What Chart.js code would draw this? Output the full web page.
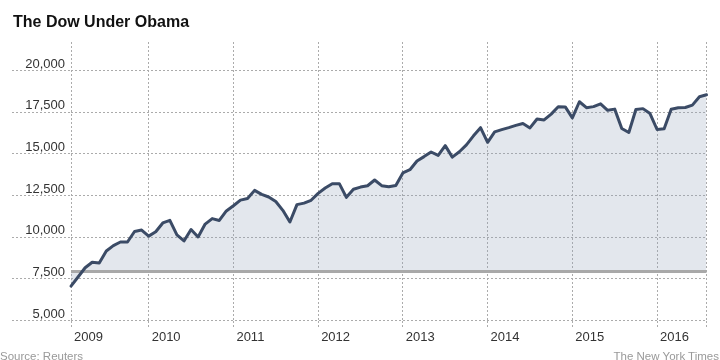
<!DOCTYPE html>
<html>
<head>
<meta charset="utf-8">
<script src="https://cdn.jsdelivr.net/npm/chart.js@4.4.1/dist/chart.umd.min.js"></script>
<style>
  html, body { margin: 0; padding: 0; background: #fff; }
  #wrap { position: relative; width: 720px; height: 360px; overflow: hidden; }
  #c { position: absolute; left: 0; top: 0; }
  .txt { position: absolute; white-space: nowrap; font-family: "Liberation Sans", Arial, sans-serif; }
  #title { left: 13px; top: 13.5px; font-size: 16px; line-height: 16px; font-weight: bold; color: #111; }
  #source { left: 0px; top: 350px; font-size: 11.5px; line-height: 12px; color: #999; }
  #credit { right: 1px; top: 350px; font-size: 11.5px; line-height: 12px; color: #999; }
</style>
</head>
<body>
<div id="wrap">
  <canvas id="c" width="720" height="360"></canvas>
  <div class="txt" id="title">The Dow Under Obama</div>
  <div class="txt" id="source">Source: Reuters</div>
  <div class="txt" id="credit">The New York Times</div>
</div>
<script>
// Monthly closes of the Dow Jones industrial average, Feb 2009 – Aug 2016
const months = [
  '2009-02','2009-03','2009-04','2009-05','2009-06','2009-07','2009-08','2009-09','2009-10','2009-11','2009-12',
  '2010-01','2010-02','2010-03','2010-04','2010-05','2010-06','2010-07','2010-08','2010-09','2010-10','2010-11','2010-12',
  '2011-01','2011-02','2011-03','2011-04','2011-05','2011-06','2011-07','2011-08','2011-09','2011-10','2011-11','2011-12',
  '2012-01','2012-02','2012-03','2012-04','2012-05','2012-06','2012-07','2012-08','2012-09','2012-10','2012-11','2012-12',
  '2013-01','2013-02','2013-03','2013-04','2013-05','2013-06','2013-07','2013-08','2013-09','2013-10','2013-11','2013-12',
  '2014-01','2014-02','2014-03','2014-04','2014-05','2014-06','2014-07','2014-08','2014-09','2014-10','2014-11','2014-12',
  '2015-01','2015-02','2015-03','2015-04','2015-05','2015-06','2015-07','2015-08','2015-09','2015-10','2015-11','2015-12',
  '2016-01','2016-02','2016-03','2016-04','2016-05','2016-06','2016-07','2016-08'
];
const dowValues = [
  7063, 7609, 8168, 8500, 8447, 9172, 9496, 9712, 9713, 10345, 10428,
  10067, 10325, 10857, 11009, 10137, 9774, 10466, 10015, 10788, 11118, 11006, 11578,
  11892, 12226, 12320, 12811, 12570, 12414, 12143, 11614, 10913, 11955, 12046, 12218,
  12633, 12952, 13212, 13214, 12393, 12880, 13009, 13091, 13437, 13096, 13026, 13104,
  13861, 14054, 14579, 14840, 15116, 14910, 15500, 14810, 15130, 15546, 16086, 16577,
  15699, 16322, 16458, 16581, 16717, 16827, 16563, 17098, 17043, 17391, 17828, 17823,
  17165, 18133, 17776, 17841, 18011, 17620, 17690, 16528, 16285, 17664, 17720, 17425,
  16466, 16517, 17685, 17774, 17787, 17930, 18432, 18550
];
// Level of the Dow on inauguration day (gray reference line)
const inaugurationLevel = 7949;
// Axis ticks
const yearLabels = ['2009','2010','2011','2012','2013','2014','2015','2016'];
const yearStartMonths = ['2009-02','2010-01','2011-01','2012-01','2013-01','2014-01','2015-01','2016-01'];
const yTickValues = [5000, 7500, 10000, 12500, 15000, 17500, 20000];
const yMin = 5000, yMax = 21720;

const mainPoints = dowValues.map((v, i) => ({ x: i, y: v }));
const lastIndex = months.length - 1;
const basePoints = [{ x: 0, y: inaugurationLevel }, { x: lastIndex, y: inaugurationLevel }];
const xTickPositions = yearStartMonths.map(m => months.indexOf(m)).concat([lastIndex]);

const gridColor = '#ababab';

new Chart(document.getElementById('c'), {
  type: 'line',
  data: {
    datasets: [
      {
        label: 'Dow',
        data: mainPoints,
        borderColor: '#3b4b66',
        borderWidth: 3,
        backgroundColor: 'rgba(150,166,190,0.27)',
        fill: { value: inaugurationLevel },
        pointRadius: 0,
        tension: 0,
        borderJoinStyle: 'round',
        borderCapStyle: 'round',
        clip: false,
        order: 0
      },
      {
        label: 'Inauguration',
        data: basePoints,
        borderColor: '#a9a9a9',
        borderWidth: 3,
        fill: false,
        pointRadius: 0,
        clip: false,
        order: 1
      }
    ]
  },
  options: {
    responsive: false,
    animation: false,
    events: [],
    layout: { padding: { top: 42, left: 10, right: 13.5, bottom: 0 } },
    plugins: {
      legend: { display: false },
      tooltip: { enabled: false },
      title: { display: false },
      filler: { drawTime: 'beforeDatasetsDraw' }
    },
    scales: {
      x: {
        type: 'linear',
        min: 0,
        max: lastIndex,
        afterBuildTicks: s => { s.ticks = xTickPositions.map(v => ({ value: v })); },
        afterFit: s => { s.height = 39.5; },
        border: { display: false, dash: [2, 2] },
        grid: {
          color: gridColor,
          lineWidth: 1,
          drawTicks: true,
          tickLength: 7,
          tickColor: gridColor,
          tickBorderDash: [2, 2]
        },
        ticks: {
          autoSkip: false,
          maxRotation: 0,
          minRotation: 0,
          align: 'start',
          labelOffset: 3,
          padding: 2,
          color: '#333',
          font: { family: '"Liberation Sans", Arial, sans-serif', size: 13 },
          callback: (v, i) => (i < yearLabels.length ? yearLabels[i] : '')
        }
      },
      y: {
        type: 'linear',
        min: yMin,
        max: yMax,
        afterBuildTicks: s => { s.ticks = yTickValues.map(v => ({ value: v })); },
        afterFit: s => { s.width = 61; },
        border: { display: false, dash: [2, 2] },
        grid: {
          color: gridColor,
          lineWidth: 1,
          drawTicks: true,
          tickLength: 59,
          tickColor: gridColor,
          tickBorderDash: [2, 2]
        },
        ticks: {
          padding: -53,
          labelOffset: -6.5,
          color: '#333',
          font: { family: '"Liberation Sans", Arial, sans-serif', size: 13 },
          callback: v => Number(v).toLocaleString('en-US')
        }
      }
    }
  }
});
</script>
</body>
</html>
